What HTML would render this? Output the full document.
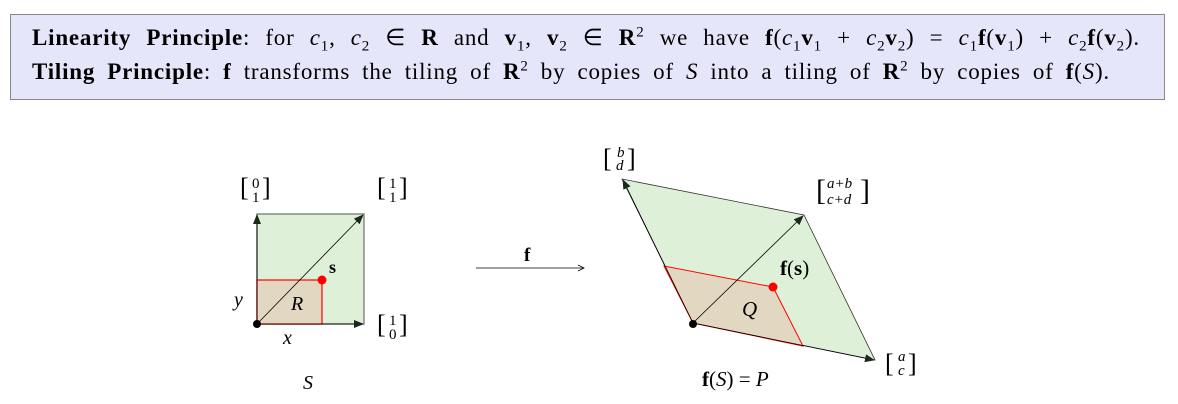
<!DOCTYPE html>
<html><head><meta charset="utf-8"><style>
body{margin:0;width:1178px;height:404px;background:#fff;font-family:"Liberation Serif",serif;position:relative;overflow:hidden}
.box{position:absolute;left:10px;top:14px;width:1155px;height:86px;background:#e6e6fa;border:1px solid #888;box-sizing:border-box}
.l{position:absolute;left:32px;font-size:23px;line-height:28px;letter-spacing:0.8px;white-space:nowrap;color:#000;text-align:justify;text-align-last:justify}
.l sub,.l sup{font-size:15px;line-height:0}
i{font-style:italic}
</style></head><body>
<div class="box"></div>
<div class="l" style="top:24px;width:1108px"><b>Linearity Principle</b>: for <i>c</i><sub>1</sub>, <i>c</i><sub>2</sub> ∈ <b>R</b> and <b>v</b><sub>1</sub>, <b>v</b><sub>2</sub> ∈ <b>R</b><sup>2</sup> we have <b>f</b>(<i>c</i><sub>1</sub><b>v</b><sub>1</sub> + <i>c</i><sub>2</sub><b>v</b><sub>2</sub>) = <i>c</i><sub>1</sub><b>f</b>(<b>v</b><sub>1</sub>) + <i>c</i><sub>2</sub><b>f</b>(<b>v</b><sub>2</sub>).</div>
<div class="l" style="top:58px;width:1078px"><b>Tiling Principle</b>: <b>f</b> transforms the tiling of <b>R</b><sup>2</sup> by copies of <i>S</i> into a tiling of <b>R</b><sup>2</sup> by copies of <b>f</b>(<i>S</i>).</div>
<svg width="1178" height="404" style="position:absolute;left:0;top:0" font-family="Liberation Serif, serif">
<defs><marker id="a" markerWidth="10" markerHeight="8" refX="9" refY="4" orient="auto" markerUnits="userSpaceOnUse"><path d="M0,0 L10,4 L0,8 Z" fill="#1a2a1a"/></marker></defs>
<rect x="257" y="214" width="107" height="110" fill="#dff0d8" stroke="#888" stroke-width="1.5"/>
<rect x="257" y="280" width="65" height="44" fill="#e2d8c2" stroke="red" stroke-width="1.2"/>
<line x1="257" y1="324" x2="257" y2="215" stroke="#000" stroke-width="0.8" marker-end="url(#a)"/>
<line x1="257" y1="324" x2="363" y2="324" stroke="#000" stroke-width="0.8" marker-end="url(#a)"/>
<line x1="257" y1="324" x2="363" y2="215" stroke="#000" stroke-width="0.8" marker-end="url(#a)"/>
<circle cx="257" cy="324" r="4" fill="#000"/><circle cx="322" cy="280" r="4.5" fill="red"/>
<text x="329" y="273" font-size="18" font-weight="bold">s</text>
<text x="291" y="310" font-size="20" font-style="italic">R</text>
<text x="234" y="306" font-size="20" font-style="italic">y</text>
<text x="283" y="344" font-size="20" font-style="italic">x</text>
<text x="303" y="389" font-size="20" font-style="italic">S</text>
<g font-size="15"><text x="240" y="196" font-size="26">[</text><text x="252" y="188">0</text><text x="252" y="202">1</text><text x="262" y="196" font-size="26">]</text>
<text x="377" y="196" font-size="26">[</text><text x="389" y="188">1</text><text x="389" y="202">1</text><text x="399" y="196" font-size="26">]</text>
<text x="377" y="333" font-size="26">[</text><text x="389" y="325">1</text><text x="389" y="339">0</text><text x="399" y="333" font-size="26">]</text></g>
<line x1="476" y1="268" x2="583" y2="268" stroke="#000" stroke-width="0.8"/><path d="M578,265 L584,268 L578,271" fill="none" stroke="#000" stroke-width="0.8"/>
<text x="524" y="261" font-size="19" font-weight="bold">f</text>
<polygon points="693,323 875,360 804,215 622,179" fill="#dff0d8" stroke="#333" stroke-width="0.8"/>
<polygon points="693,323 803,346 773,287 664,266" fill="#e2d8c2" stroke="red" stroke-width="1"/>
<line x1="693" y1="323" x2="874" y2="360" stroke="#000" stroke-width="0.8" marker-end="url(#a)"/>
<line x1="693" y1="323" x2="623" y2="180" stroke="#000" stroke-width="0.8" marker-end="url(#a)"/>
<line x1="693" y1="323" x2="803" y2="216" stroke="#000" stroke-width="0.8" marker-end="url(#a)"/>
<circle cx="693" cy="324" r="4" fill="#000"/><circle cx="773" cy="287" r="4.5" fill="red"/>
<text x="780" y="275" font-size="21"><tspan font-weight="bold">f</tspan>(<tspan font-weight="bold">s</tspan>)</text>
<text x="742" y="316" font-size="21" font-style="italic">Q</text>
<text x="702" y="386" font-size="21"><tspan font-weight="bold">f</tspan>(<tspan font-style="italic">S</tspan>) = <tspan font-style="italic">P</tspan></text>
<g font-size="15" font-style="italic"><text x="603" y="167" font-size="26" font-style="normal">[</text><text x="617" y="157">b</text><text x="616" y="170">d</text><text x="627" y="167" font-size="26" font-style="normal">]</text>
<text x="816" y="200" font-size="30" font-style="normal">[</text><text x="827" y="188">a+b</text><text x="827" y="204">c+d</text><text x="860" y="200" font-size="30" font-style="normal">]</text>
<text x="885" y="372" font-size="26" font-style="normal">[</text><text x="898" y="361">a</text><text x="898" y="375">c</text><text x="908" y="372" font-size="26" font-style="normal">]</text></g>
</svg>
</body></html>
